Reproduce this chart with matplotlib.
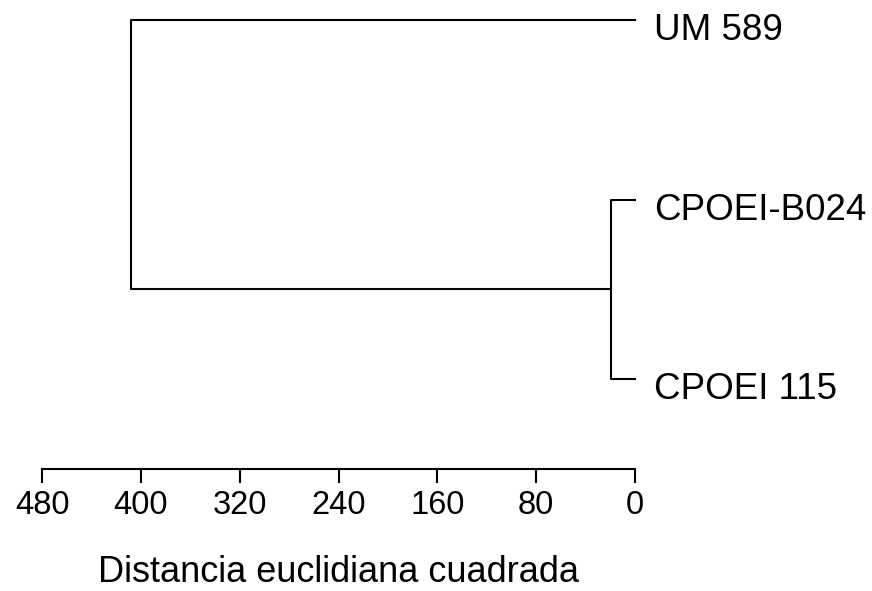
import matplotlib
matplotlib.use("Agg")
import matplotlib.pyplot as plt

# Leaves from top to bottom and the two merge heights (squared euclidean distance).
leaves = ["UM 589", "CPOEI-B024", "CPOEI 115"]
leaf_pos = [3, 2, 1]
merge_low = 19.7      # CPOEI-B024 + CPOEI 115
merge_root = 408.2    # cluster + UM 589
ticks = [480, 400, 320, 240, 160, 80, 0]

plt.rcParams["font.family"] = ["Liberation Sans", "DejaVu Sans"]

fig = plt.figure(figsize=(8.72, 5.91), dpi=100)
ax = fig.add_axes([42 / 872, 122 / 591, 593 / 872, 449 / 591])

lw = 1.5
kw = dict(color="black", lw=lw, clip_on=False, solid_capstyle="projecting")

# lower cluster
y_top, y_bot = leaf_pos[1], leaf_pos[2]
ax.plot([0, merge_low, merge_low, 0], [y_top, y_top, y_bot, y_bot], **kw)
y_mid = (y_top + y_bot) / 2

# root join
ax.plot([0, merge_root, merge_root, merge_low], [leaf_pos[0], leaf_pos[0], y_mid, y_mid], **kw)

for name, y in zip(leaves, leaf_pos):
    ax.annotate(name, xy=(0, y), xytext=(13.5, -7.5), textcoords="offset points",
                ha="left", va="center", fontsize=26.5, annotation_clip=False)

ax.set_xlim(480, 0)
ax.set_ylim(0.5, 3)
for s in ["top", "right", "left"]:
    ax.spines[s].set_visible(False)
ax.spines["bottom"].set_linewidth(lw)
ax.spines["bottom"].set_bounds(480, 0)
ax.set_yticks([])
ax.set_xticks(ticks)
ax.set_xticklabels([str(t) for t in ticks])
ax.tick_params(axis="x", direction="out", length=10, width=lw, labelsize=23.5, pad=5)
ax.set_xlabel("Distancia euclidiana cuadrada", fontsize=26, va="center")
ax.xaxis.set_label_coords(0.5, (469 - 572) / 449)

fig.savefig("out.png", dpi=100)
